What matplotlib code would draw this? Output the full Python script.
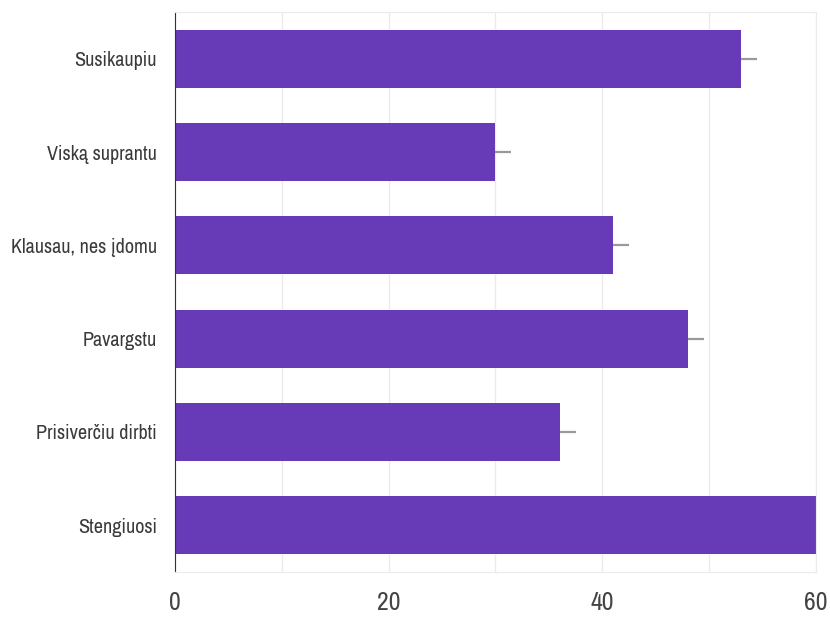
import matplotlib.pyplot as plt

labels = ['Susikaupiu', 'Viską suprantu', 'Klausau, nes įdomu',
          'Pavargstu', 'Prisiverčiu dirbti', 'Stengiuosi']
values = [53, 30, 41, 48, 36, 60]
errors = [1.5, 1.5, 1.5, 1.5, 1.5, 1.5]

plt.rcParams['font.family'] = ['Archivo Narrow', 'Roboto Condensed', 'DejaVu Sans']

fig = plt.figure(figsize=(8.3, 6.23), dpi=100)
ax = fig.add_axes([0.2108, 0.0819, 0.9831 - 0.2108, 0.9807 - 0.0819])

pos = list(range(len(labels)))
ax.barh(pos, values, height=0.62, color='#673ab7', zorder=2,
        xerr=[[0] * len(errors), errors],
        error_kw=dict(ecolor='#999999', elinewidth=1.6, capsize=0, zorder=3))

ax.set_xlim(0, 60)
ax.set_ylim(5.5, -0.5)
ax.set_yticks(pos)
ax.set_yticklabels(labels)
ax.set_xticks([0, 20, 40, 60])
ax.set_xticks([10, 30, 50], minor=True)
ax.grid(axis='x', which='both', color='#ebebeb', linewidth=1, zorder=0)
ax.tick_params(axis='both', which='both', length=0)
ax.tick_params(axis='y', labelsize=14.5, pad=13, colors='#3a3a3a')
ax.tick_params(axis='x', labelsize=18.5, pad=14, colors='#444444')

for side in ['top', 'right', 'bottom']:
    ax.spines[side].set_color('#ebebeb')
ax.spines['left'].set_color('#333333')

fig.savefig('out.png', dpi=100, facecolor='white')
